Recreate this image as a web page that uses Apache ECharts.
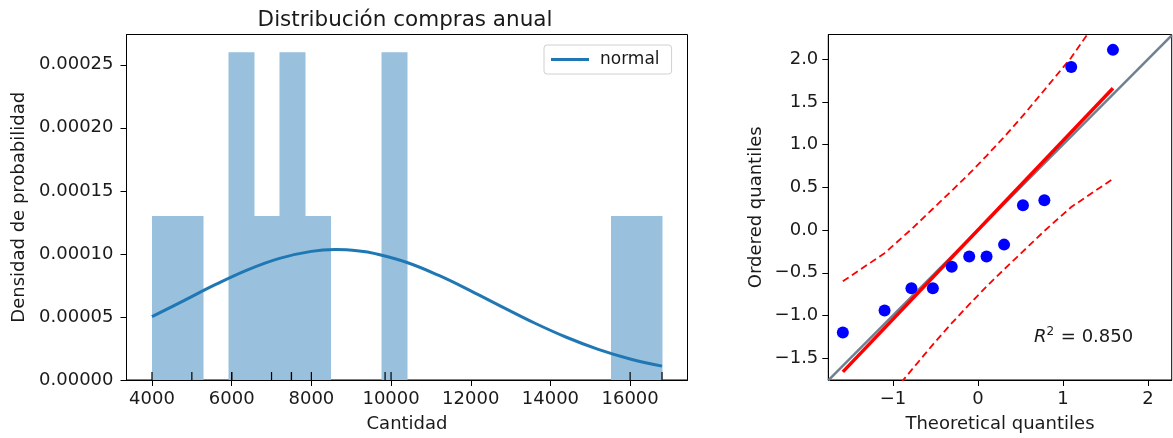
<!DOCTYPE html>
<html>
<head>
<meta charset="utf-8">
<script src="https://cdn.jsdelivr.net/npm/echarts@6/dist/echarts.min.js"></script>
<style>
html,body{margin:0;padding:0;background:#fff;}
#chart{width:1173px;height:438px;}
</style>
</head>
<body>
<div id="chart"></div>
<script>
// ---------- Left panel: histogram (density) ----------
const binEdges = [4000, 4640, 5280, 5920, 6560, 7200, 7840, 8480, 9120, 9760, 10400,
                  11040, 11680, 12320, 12960, 13600, 14240, 14880, 15520, 16160, 16800];
const binDensity = [0.000130, 0.000130, 0, 0.000260, 0.000130, 0.000260, 0.000130, 0, 0, 0.000260,
                    0, 0, 0, 0, 0, 0, 0, 0, 0.000130, 0.000130];
// normal curve
const normalX = [4000, 4800, 5600, 6400, 7200, 8000, 8600, 9200, 9600, 10400, 11200, 12000,
                 12800, 13600, 14400, 15200, 16000, 16800];
const normalY = [0.0000502, 0.0000630, 0.0000758, 0.0000874, 0.0000965, 0.0001020, 0.0001034,
                 0.0001023, 0.0001002, 0.0000932, 0.0000829, 0.0000707, 0.0000578, 0.0000452,
                 0.0000339, 0.0000243, 0.0000167, 0.0000110];
// rug (observations)
const rugValues = [4000, 5000, 6000, 6000, 7000, 7500, 7500, 8000, 9850, 10000, 16000, 16800];
const leftXTicks = [4000, 6000, 8000, 10000, 12000, 14000, 16000];
const leftYTicks = [0, 0.00005, 0.00010, 0.00015, 0.00020, 0.00025];

// ---------- Right panel: QQ plot ----------
const theoQ = [-1.589, -1.098, -0.782, -0.530, -0.308, -0.102, 0.102, 0.308, 0.530, 0.782, 1.098, 1.589];
const orderedQ = [-1.20, -0.94, -0.68, -0.68, -0.43, -0.31, -0.31, -0.17, 0.29, 0.35, 1.91, 2.11];
const upperBand = [-0.60, -0.27, 0.01, 0.25, 0.46, 0.66, 0.87, 1.09, 1.34, 1.64, 2.02, 2.72];
const lowerBand = [-2.72, -2.02, -1.64, -1.34, -1.09, -0.87, -0.66, -0.46, -0.25, -0.01, 0.27, 0.60];
const fitLineX = [-1.589, 1.589];
const fitLineY = [-1.66, 1.66];
const rightXTicks = [-1, 0, 1, 2];
const rightYTicks = [-1.5, -1.0, -0.5, 0.0, 0.5, 1.0, 1.5, 2.0];
const qqXRange = [-1.76, 2.28];
const qqYRange = [-1.755, 2.29];

const FONT = 'DejaVu Sans';
const FS = 18;
const minus = s => String(s).replace('-', '\u2212');

const histData = binDensity.map((d, i) => [binEdges[i], binEdges[i + 1], d]).filter(r => r[2] > 0);

const chart = echarts.init(document.getElementById('chart'), null, {renderer: 'canvas'});

const axisCommon = {
  axisLine: {show: true, onZero: false, lineStyle: {color: '#000', width: 1}},
  axisTick: {show: true, length: 6, lineStyle: {color: '#000', width: 1}},
  splitLine: {show: false},
  axisLabel: {color: '#1a1a1a', fontFamily: FONT, fontSize: FS},
  nameTextStyle: {color: '#1a1a1a', fontFamily: FONT, fontSize: FS},
  nameLocation: 'middle'
};

const option = {
  animation: false,
  backgroundColor: '#fff',
  textStyle: {fontFamily: FONT},
  title: {
    text: 'Distribución compras anual',
    left: 400, top: 4, textAlign: 'center',
    textStyle: {fontFamily: FONT, fontSize: 21.5, fontWeight: 'normal', color: '#1a1a1a'}
  },
  legend: {
    show: true,
    data: ['normal'],
    left: 544, top: 45,
    orient: 'vertical',
    icon: 'rect',
    itemWidth: 38, itemHeight: 3,
    itemGap: 0,
    padding: [6, 12, 6, 7],
    borderColor: '#d0d0d0', borderWidth: 1, borderRadius: 3,
    textStyle: {fontFamily: FONT, fontSize: 17, color: '#1a1a1a', padding: [0, 0, 0, 6]}
  },
  grid: [
    {left: 126.5, top: 34.5, width: 561, height: 345.5, show: true, borderColor: '#000', borderWidth: 1, containLabel: false},
    {left: 828.3, top: 34.5, width: 343.4, height: 345.5, show: true, borderColor: '#000', borderWidth: 1, containLabel: false}
  ],
  xAxis: [
    Object.assign({}, axisCommon, {
      gridIndex: 0, type: 'value', min: 3360, max: 17440,
      name: 'Cantidad', nameGap: 35,
      axisTick: Object.assign({}, axisCommon.axisTick, {customValues: leftXTicks}),
      axisLabel: Object.assign({}, axisCommon.axisLabel, {customValues: leftXTicks, margin: 10, formatter: v => String(v)})
    }),
    Object.assign({}, axisCommon, {
      gridIndex: 1, type: 'value', min: qqXRange[0], max: qqXRange[1],
      name: 'Theoretical quantiles', nameGap: 35,
      axisTick: Object.assign({}, axisCommon.axisTick, {customValues: rightXTicks}),
      axisLabel: Object.assign({}, axisCommon.axisLabel, {customValues: rightXTicks, margin: 10, formatter: v => minus(v)})
    })
  ],
  yAxis: [
    Object.assign({}, axisCommon, {
      gridIndex: 0, type: 'value', min: 0, max: 0.000274,
      name: 'Densidad de probabilidad', nameGap: 98,
      axisTick: Object.assign({}, axisCommon.axisTick, {customValues: leftYTicks}),
      axisLabel: Object.assign({}, axisCommon.axisLabel, {customValues: leftYTicks, margin: 13, formatter: v => Number(v).toFixed(5)})
    }),
    Object.assign({}, axisCommon, {
      gridIndex: 1, type: 'value', min: qqYRange[0], max: qqYRange[1],
      name: 'Ordered quantiles', nameGap: 63,
      axisTick: Object.assign({}, axisCommon.axisTick, {customValues: rightYTicks}),
      axisLabel: Object.assign({}, axisCommon.axisLabel, {customValues: rightYTicks, margin: 10, formatter: v => minus(Number(v).toFixed(1))})
    })
  ],
  series: [
    {
      type: 'custom', name: 'hist', xAxisIndex: 0, yAxisIndex: 0, z: 1,
      data: histData,
      renderItem: function (params, api) {
        const p0 = api.coord([api.value(0), api.value(2)]);
        const p1 = api.coord([api.value(1), 0]);
        return {
          type: 'rect',
          shape: {x: p0[0], y: p0[1], width: p1[0] - p0[0] + 0.5, height: p1[1] - p0[1]},
          style: {fill: '#99c0dc'}
        };
      }
    },
    {
      type: 'line', name: 'normal', xAxisIndex: 0, yAxisIndex: 0, z: 3,
      data: normalX.map((x, i) => [x, normalY[i]]),
      smooth: 0.4, showSymbol: false, symbol: 'none',
      lineStyle: {color: '#1f77b4', width: 3},
      itemStyle: {color: '#1f77b4'}
    },
    {
      type: 'custom', name: 'rug', xAxisIndex: 0, yAxisIndex: 0, z: 4,
      data: rugValues.map(v => [v, 0]),
      renderItem: function (params, api) {
        const p = api.coord([api.value(0), 0]);
        return {
          type: 'line',
          shape: {x1: p[0], y1: p[1], x2: p[0], y2: p[1] - 8},
          style: {stroke: '#000', lineWidth: 1.2}
        };
      }
    },
    {
      type: 'line', name: 'identity', xAxisIndex: 1, yAxisIndex: 1, z: 2,
      data: [[qqXRange[0], qqXRange[0]], [qqXRange[1], qqXRange[1]]],
      showSymbol: false, symbol: 'none', clip: true,
      lineStyle: {color: '#708090', width: 2.5}
    },
    {
      type: 'line', name: 'fit', xAxisIndex: 1, yAxisIndex: 1, z: 3,
      data: fitLineX.map((x, i) => [x, fitLineY[i]]),
      showSymbol: false, symbol: 'none', clip: true,
      lineStyle: {color: '#ff0000', width: 3.5}
    },
    {
      type: 'line', name: 'upper', xAxisIndex: 1, yAxisIndex: 1, z: 3,
      data: theoQ.map((x, i) => [x, upperBand[i]]),
      showSymbol: false, symbol: 'none', clip: true, smooth: false,
      lineStyle: {color: '#ff0000', width: 1.8, type: [7, 4]}
    },
    {
      type: 'line', name: 'lower', xAxisIndex: 1, yAxisIndex: 1, z: 3,
      data: theoQ.map((x, i) => [x, lowerBand[i]]),
      showSymbol: false, symbol: 'none', clip: true, smooth: false,
      lineStyle: {color: '#ff0000', width: 1.8, type: [7, 4]}
    },
    {
      type: 'scatter', name: 'points', xAxisIndex: 1, yAxisIndex: 1, z: 5,
      data: theoQ.map((x, i) => [x, orderedQ[i]]),
      symbol: 'circle', symbolSize: 12,
      itemStyle: {color: '#0000ff', opacity: 1}
    }
  ],
  graphic: [
    {
      type: 'text', left: 1034, top: 326, z: 10,
      style: {
        text: '{i|R}{s|2}{n| = 0.850}',
        rich: {
          i: {fontFamily: FONT, fontSize: FS, fontStyle: 'italic', fill: '#1a1a1a', verticalAlign: 'bottom'},
          s: {fontFamily: FONT, fontSize: 12, fill: '#1a1a1a', verticalAlign: 'top', padding: [0, 1, 8, 0]},
          n: {fontFamily: FONT, fontSize: FS, fill: '#1a1a1a', verticalAlign: 'bottom'}
        }
      }
    }
  ]
};
chart.setOption(option);
</script>
</body>
</html>
